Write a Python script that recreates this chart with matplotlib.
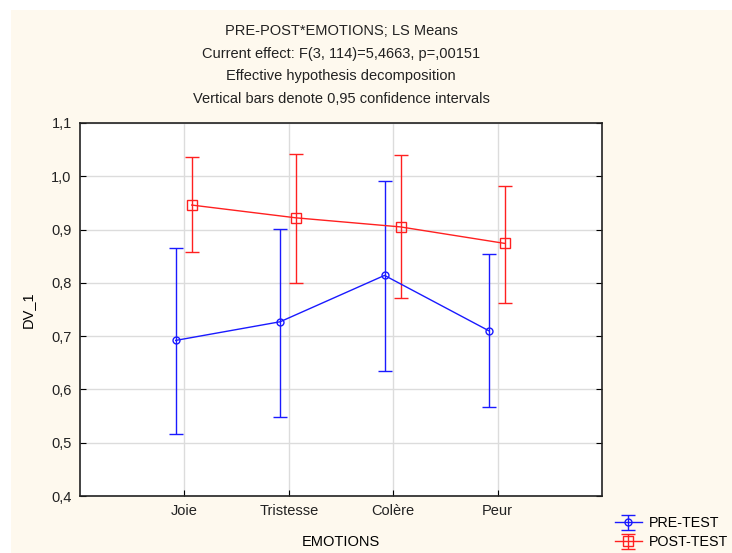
import numpy as np
import matplotlib
matplotlib.use("Agg")
import matplotlib.pyplot as plt
from matplotlib.patches import Rectangle

plt.rcParams["font.family"] = ["Liberation Sans", "DejaVu Sans"]

emotions = ["Joie", "Tristesse", "Colère", "Peur"]

pre_mean = [0.692, 0.727, 0.814, 0.710]
pre_low = [0.517, 0.549, 0.635, 0.567]
pre_high = [0.865, 0.901, 0.991, 0.855]

post_mean = [0.946, 0.922, 0.905, 0.874]
post_low = [0.857, 0.800, 0.772, 0.763]
post_high = [1.036, 1.042, 1.040, 0.982]

y_ticks = [0.4, 0.5, 0.6, 0.7, 0.8, 0.9, 1.0, 1.1]
y_labels = ["0,4", "0,5", "0,6", "0,7", "0,8", "0,9", "1,0", "1,1"]

title_lines = [
    "PRE-POST*EMOTIONS; LS Means",
    "Current effect: F(3, 114)=5,4663, p=,00151",
    "Effective hypothesis decomposition",
    "Vertical bars denote 0,95 confidence intervals",
]

fig = plt.figure(figsize=(7.32, 5.53), dpi=100)
fig.patch.set_facecolor("white")
# cream panel behind everything, white strip at top and left
fig.patches.append(Rectangle((11 / 732, 0), 1, 1 - 10 / 553,
                             transform=fig.transFigure, facecolor="#fef9ee",
                             edgecolor="none", zorder=-10))

ax = fig.add_axes([80 / 732, 1 - 496 / 553, 522 / 732, 373 / 553])
ax.set_facecolor("white")

x = np.arange(1, len(emotions) + 1)
pre_err = [np.array(pre_mean) - np.array(pre_low),
           np.array(pre_high) - np.array(pre_mean)]
post_err = [np.array(post_mean) - np.array(post_low),
            np.array(post_high) - np.array(post_mean)]

h_pre = ax.errorbar(x - 0.083, pre_mean, yerr=pre_err, color="#1a1aff",
                    marker="o", ms=5, mfc="none", mew=1, lw=1,
                    capsize=5, capthick=1, elinewidth=1, label="PRE-TEST")
h_post = ax.errorbar(x + 0.07, post_mean, yerr=post_err, color="#ff2020",
                     marker="s", ms=7, mfc="none", mew=1, lw=1,
                     capsize=5, capthick=1, elinewidth=1, label="POST-TEST")

ax.set_xlim(0, 5)
ax.set_ylim(0.4, 1.1)
ax.set_xticks(x)
ax.set_xticklabels(emotions)
ax.set_yticks(y_ticks)
ax.set_yticklabels(y_labels)
ax.grid(True, color="#dcdcdc", lw=1)
ax.set_axisbelow(True)
ax.tick_params(direction="in", length=4, labelsize=10.5, colors="black",
               right=True, labelcolor="#222222", pad=6)
for sp in ax.spines.values():
    sp.set_color("#222222")
    sp.set_linewidth(1.2)

ax.set_xlabel("EMOTIONS", fontsize=10.5, labelpad=12)
ax.set_ylabel("DV_1", fontsize=10.5, labelpad=12)

for i, line in enumerate(title_lines):
    fig.text(341 / 732, 1 - (31 + i * 22.7) / 553, line, ha="center",
             va="center", fontsize=10.5, color="#222222")

fig.legend(handles=[h_pre, h_post], loc="lower left",
           bbox_to_anchor=(609 / 732, -0.004), frameon=False,
           fontsize=10.3, handlelength=1.9, handletextpad=0.5,
           labelspacing=0.35, borderaxespad=0)

fig.savefig("out.png", dpi=100)
